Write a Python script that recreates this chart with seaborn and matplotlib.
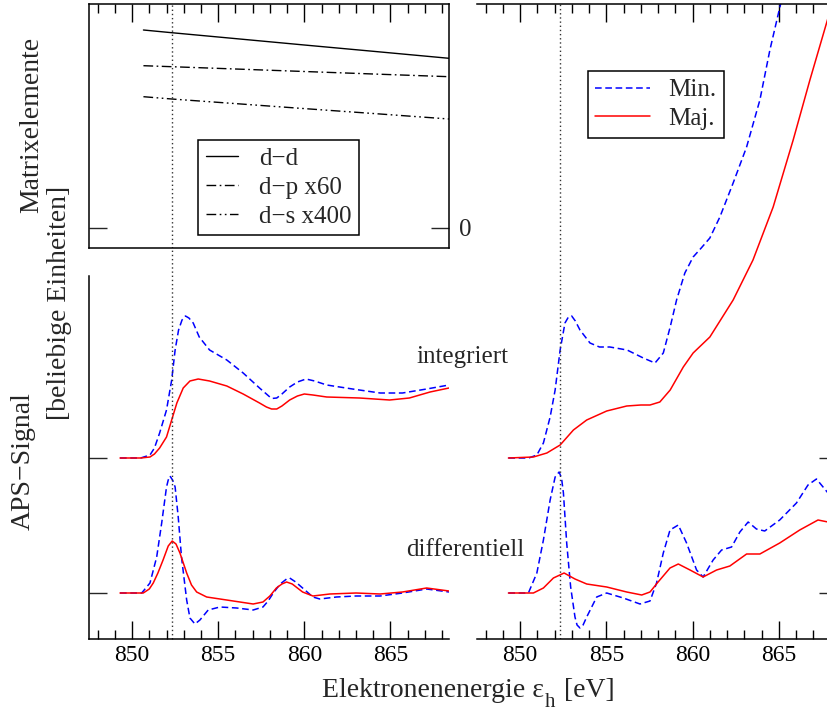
import numpy as np
import pandas as pd
import matplotlib
matplotlib.use("Agg")
import matplotlib.pyplot as plt
from matplotlib.ticker import MultipleLocator, FixedLocator
import seaborn as sns

# ---------------- data ----------------
# Matrix elements (arbitrary units, zero = tick "0")
me_x = [850.66, 852.3, 856.0, 860.0, 864.0, 868.4]
me_dd = [1.98, 1.953, 1.894, 1.83, 1.767, 1.697]
me_dp = [1.623, 1.613, 1.59, 1.565, 1.54, 1.513]
me_ds = [1.313, 1.29, 1.244, 1.194, 1.145, 1.09]
me_labels = ["d\u2212d", "d\u2212p x60", "d\u2212s x400"]

# Left panel, integrated signal (height above its baseline)
li_min_x = [849.3, 850.5, 851.04, 851.3, 851.6, 852.0, 852.3, 852.5, 852.7, 852.9, 853.1, 853.3,
            853.55, 853.9, 854.5, 855.5, 856.45, 857.4, 857.8, 858.1, 858.4, 858.7, 859.15, 859.6,
            860.1, 860.6, 861.3, 862.8, 864.4, 865.7, 867.1, 868.4]
li_min_y = [0.0, 0.0, 0.03, 0.10, 0.25, 0.48, 0.78, 1.08, 1.28, 1.38, 1.42, 1.40,
            1.35, 1.21, 1.08, 0.98, 0.85, 0.70, 0.64, 0.595, 0.60, 0.64, 0.71, 0.76,
            0.79, 0.77, 0.73, 0.69, 0.65, 0.65, 0.69, 0.73]
li_maj_x = [849.3, 850.5, 851.04, 851.3, 851.6, 852.0, 852.3, 852.6, 852.97, 853.36, 853.84, 854.5,
            855.5, 856.45, 857.4, 857.8, 858.1, 858.4, 858.7, 859.15, 859.6, 860.0, 860.5, 861.3,
            863.2, 864.95, 866.1, 867.3, 868.4]
li_maj_y = [0.0, 0.0, 0.01, 0.04, 0.10, 0.21, 0.38, 0.55, 0.70, 0.77, 0.79, 0.77,
            0.72, 0.64, 0.55, 0.51, 0.49, 0.49, 0.52, 0.58, 0.62, 0.64, 0.63, 0.61,
            0.60, 0.58, 0.60, 0.66, 0.70]

# Left panel, differential signal
ld_min_x = [849.3, 850.56, 851.04, 851.43, 851.72, 852.0, 852.1, 852.2, 852.35, 852.5, 852.68, 852.87,
            853.17, 853.36, 853.65, 853.94, 854.42, 855.1, 856.07, 857.03, 857.6, 857.9, 858.2,
            858.6, 858.97, 859.15, 859.5, 859.9, 860.5, 860.9, 861.87, 863.0, 864.4, 865.7,
            867.1, 868.4]
ld_min_y = [0.0, 0.0, 0.10, 0.36, 0.70, 1.06, 1.13, 1.17, 1.13, 1.06, 0.76, 0.36,
            -0.07, -0.25, -0.31, -0.27, -0.17, -0.14, -0.15, -0.17, -0.14, -0.08, 0.0,
            0.09, 0.14, 0.15, 0.11, 0.05, -0.04, -0.06, -0.04, -0.03, -0.03, 0.0,
            0.04, 0.01]
ld_maj_x = [849.3, 850.65, 851.0, 851.23, 851.5, 851.8, 852.1, 852.33, 852.55, 852.78, 853.17,
            853.45, 853.75, 854.33, 855.49, 857.03, 857.6, 858.0, 858.38, 858.7, 858.97, 859.3,
            859.9, 860.5, 861.48, 863.0, 864.4, 865.7, 867.1, 868.4]
ld_maj_y = [0.0, 0.0, 0.04, 0.10, 0.20, 0.33, 0.47, 0.52, 0.49, 0.40, 0.20,
            0.08, 0.01, -0.04, -0.07, -0.11, -0.09, -0.03, 0.05, 0.09, 0.11, 0.09,
            0.01, -0.03, -0.01, 0.0, -0.01, 0.01, 0.05, 0.02]

# Right panel, integrated signal
ri_min_x = [849.32, 850.5, 850.97, 851.35, 851.74, 852.03, 852.32, 852.6, 852.8, 852.99, 853.2,
            853.47, 854.05, 854.6, 855.2, 856.2, 857.14, 857.82, 858.3, 858.7, 859.07, 859.55,
            860.03, 860.5, 861.0, 861.58, 862.35, 863.13, 863.9, 864.48, 865.02, 865.16, 865.6]
ri_min_y = [0.0, 0.0, 0.03, 0.15, 0.41, 0.68, 1.08, 1.35, 1.41, 1.42, 1.37,
            1.28, 1.15, 1.11, 1.11, 1.08, 1.00, 0.95, 1.05, 1.31, 1.58, 1.85,
            2.01, 2.10, 2.20, 2.41, 2.75, 3.11, 3.58, 4.08, 4.48, 4.58, 4.90]
ri_maj_x = [849.32, 850.77, 851.55, 852.32, 853.09, 853.86, 855.02, 856.18, 857.0, 857.53, 858.1,
            858.7, 859.46, 860.03, 861.0, 862.35, 863.5, 864.67, 865.83, 866.8, 867.85, 868.4]
ri_maj_y = [0.0, 0.01, 0.05, 0.13, 0.28, 0.38, 0.47, 0.52, 0.53, 0.53, 0.56,
            0.68, 0.91, 1.05, 1.21, 1.58, 1.98, 2.51, 3.18, 3.78, 4.40, 4.75]

# Right panel, differential signal
rd_min_x = [849.32, 850.48, 850.97, 851.35, 851.74, 852.03, 852.26, 852.4, 852.51, 852.7, 852.93,
            853.18, 853.3, 853.47, 853.65, 853.86, 854.44, 855.02, 855.98, 856.95, 857.53, 857.91,
            858.3, 858.69, 859.17, 859.65, 860.23, 860.61, 861.19, 861.68, 862.26, 862.74,
            863.22, 863.7, 864.18, 865.05, 866.02, 866.69, 867.18, 867.85, 868.4]
rd_min_y = [0.0, 0.0, 0.20, 0.53, 0.93, 1.16, 1.21, 1.15, 1.00, 0.50, 0.06,
            -0.24, -0.32, -0.35, -0.32, -0.24, -0.04, 0.0, -0.05, -0.11, -0.08, 0.10,
            0.40, 0.63, 0.68, 0.50, 0.23, 0.16, 0.33, 0.43, 0.46, 0.61,
            0.71, 0.64, 0.62, 0.73, 0.90, 1.08, 1.14, 1.00, 0.88]
rd_maj_x = [849.32, 850.77, 851.35, 851.93, 852.55, 853.18, 853.86, 855.02, 856.18, 857.05, 857.53,
            858.0, 858.69, 859.17, 859.85, 860.61, 861.39, 862.16, 863.13, 863.9, 865.05, 866.21,
            867.27, 867.85, 868.4]
rd_maj_y = [0.0, 0.0, 0.05, 0.15, 0.20, 0.14, 0.09, 0.06, 0.01, -0.02, 0.01,
            0.11, 0.25, 0.29, 0.23, 0.16, 0.23, 0.27, 0.39, 0.39, 0.50, 0.63,
            0.73, 0.71, 0.70]

edge_energy = 852.3
spin_labels = ["Min.", "Maj."]
x_ticks = [850, 855, 860, 865]

# ---------------- style ----------------
sns.set_style("white")
plt.rcParams["font.family"] = ["Liberation Serif", "DejaVu Serif"]
plt.rcParams["lines.scale_dashes"] = False
plt.rcParams["axes.linewidth"] = 1.1

W, H = 828, 713
fig = plt.figure(figsize=(W / 100, H / 100), dpi=100)

def px_axes(x0, y0, x1, y1):
    return fig.add_axes([x0 / W, 1 - y1 / H, (x1 - x0) / W, (y1 - y0) / H])

XL = (847.5, 868.4)
INT_OFF = 1.35
BLUE, RED = "#0000ff", "#ff0000"
DASH = (0, (4.8, 2.6))
LW = 1.1

ax_me = px_axes(89, 4, 449, 248)
ax_l = px_axes(89, 276, 449, 639)
ax_r = px_axes(477, 4, 837.5, 639)

def style_x(ax, top, bottom, labels):
    ax.set_xlim(*XL)
    ax.xaxis.set_major_locator(FixedLocator(x_ticks))
    ax.xaxis.set_minor_locator(MultipleLocator(1))
    ax.tick_params(axis="x", which="both", direction="in", top=top, bottom=bottom,
                   labelbottom=labels, labeltop=False, width=1.0, colors="black")
    ax.tick_params(axis="x", which="major", length=13, labelsize=17, pad=4.5)
    ax.tick_params(axis="x", which="minor", length=6.5)
    for s in ax.spines.values():
        s.set_color("black")

# ---- matrix elements ----
me_styles = ["-", (0, (7, 2.5, 1.2, 2.5)), (0, (7, 2.5, 1.2, 2.5, 1.2, 2.5))]
for vals, lab, ls in zip([me_dd, me_dp, me_ds], me_labels, me_styles):
    sns.lineplot(x=me_x, y=vals, ax=ax_me, color="black", linewidth=1.0, linestyle=ls,
                 label=lab, estimator=None, sort=False)
ax_me.set_ylim(-0.2, 2.24)
style_x(ax_me, top=True, bottom=False, labels=False)
ax_me.set_yticks([0])
ax_me.set_yticklabels(["0"])
ax_me.tick_params(axis="y", which="both", direction="in", left=True, right=True,
                  labelleft=False, labelright=True, length=13, width=1.0, labelsize=18, pad=7)
ax_me.set_xlabel("")
ax_me.set_ylabel("")
leg = ax_me.legend(loc="lower left", bbox_to_anchor=(0.303, 0.053), borderaxespad=0,
                   fontsize=18, frameon=True, fancybox=False, edgecolor="black",
                   framealpha=1, handlelength=1.3, handletextpad=0.85, labelspacing=0.25,
                   borderpad=0.3)
leg.get_frame().set_linewidth(1.1)

# ---- left APS panel ----
sns.lineplot(x=li_min_x, y=np.array(li_min_y) + INT_OFF, ax=ax_l, color=BLUE, linewidth=LW,
             linestyle=DASH, estimator=None, sort=False)
sns.lineplot(x=li_maj_x, y=np.array(li_maj_y) + INT_OFF, ax=ax_l, color=RED, linewidth=LW,
             estimator=None, sort=False)
sns.lineplot(x=ld_min_x, y=ld_min_y, ax=ax_l, color=BLUE, linewidth=LW, linestyle=DASH,
             estimator=None, sort=False)
sns.lineplot(x=ld_maj_x, y=ld_maj_y, ax=ax_l, color=RED, linewidth=LW,
             estimator=None, sort=False)
ax_l.set_ylim(-0.46, 3.17)
style_x(ax_l, top=False, bottom=True, labels=True)
ax_l.spines["top"].set_visible(False)
ax_l.spines["right"].set_visible(False)
ax_l.set_yticks([0, INT_OFF])
ax_l.tick_params(axis="y", direction="in", left=True, right=False, labelleft=False,
                 length=13, width=1.0)
ax_l.set_xlabel("")
ax_l.set_ylabel("")

# ---- right APS panel ----
sns.lineplot(x=ri_min_x, y=np.array(ri_min_y) + INT_OFF, ax=ax_r, color=BLUE, linewidth=LW,
             linestyle=DASH, estimator=None, sort=False, label=spin_labels[0])
sns.lineplot(x=ri_maj_x, y=np.array(ri_maj_y) + INT_OFF, ax=ax_r, color=RED, linewidth=LW,
             estimator=None, sort=False, label=spin_labels[1])
sns.lineplot(x=rd_min_x, y=rd_min_y, ax=ax_r, color=BLUE, linewidth=LW, linestyle=DASH,
             estimator=None, sort=False)
sns.lineplot(x=rd_maj_x, y=rd_maj_y, ax=ax_r, color=RED, linewidth=LW,
             estimator=None, sort=False)
ax_r.set_ylim(-0.46, 5.89)
style_x(ax_r, top=True, bottom=True, labels=True)
ax_r.spines["left"].set_visible(False)
ax_r.set_yticks([0, INT_OFF])
ax_r.tick_params(axis="y", direction="in", left=False, right=True, labelleft=False,
                 labelright=False, length=13, width=1.0)
ax_r.set_xlabel("")
ax_r.set_ylabel("")
leg2 = ax_r.legend(loc="upper left", bbox_to_anchor=(0.307, 0.894), borderaxespad=0,
                   fontsize=18, frameon=True, fancybox=False, edgecolor="black",
                   framealpha=1, handlelength=2.2, handletextpad=0.72, labelspacing=0.25,
                   borderpad=0.3)
leg2.get_frame().set_linewidth(1.1)

# ---- dotted reference line ----
dot = dict(color="#333333", linewidth=1.0, linestyle=(0, (1, 2)))
ax_me.axvline(edge_energy, **dot)
ax_l.axvline(edge_energy, ymin=0, ymax=(639 - 248) / (639 - 276), clip_on=False, **dot)
ax_r.axvline(edge_energy, **dot)

# ---- texts ----
fig.text(32 / W, 1 - 125 / H, "Matrixelemente", rotation=90, ha="center", va="center", fontsize=20)
fig.text(60 / W, 1 - 303 / H, "[beliebige Einheiten]", rotation=90, ha="center", va="center", fontsize=20)
fig.text(23 / W, 1 - 461 / H, "APS\u2212Signal", rotation=90, ha="center", va="center", fontsize=20)
fig.text(462 / W, 1 - 363 / H, "integriert", ha="center", va="baseline", fontsize=18)
fig.text(465 / W, 1 - 556 / H, "differentiell", ha="center", va="baseline", fontsize=18)

# x label built from pieces so that the subscript sits low, as in the reference
renderer = fig.canvas.get_renderer()
base_y = 1 - 697 / H
sub_y = 1 - 707 / H
parts = [("Elektronenenergie ε", 20, base_y, 0.0),
         ("h", 15, sub_y, 1.5),
         (" [eV]", 20, base_y, 1.0)]
texts = []
for s, fs, yy, gap in parts:
    t = fig.text(0, yy, s, ha="left", va="baseline", fontsize=fs)
    texts.append((t, gap))
widths = [t.get_window_extent(renderer).width for t, _ in texts]
total = sum(widths) + sum(g for _, g in texts)
x = 468 - total / 2
for (t, gap), w in zip(texts, widths):
    x += gap
    t.set_x(x / W)
    x += w

fig.savefig("out.png", dpi=100)
